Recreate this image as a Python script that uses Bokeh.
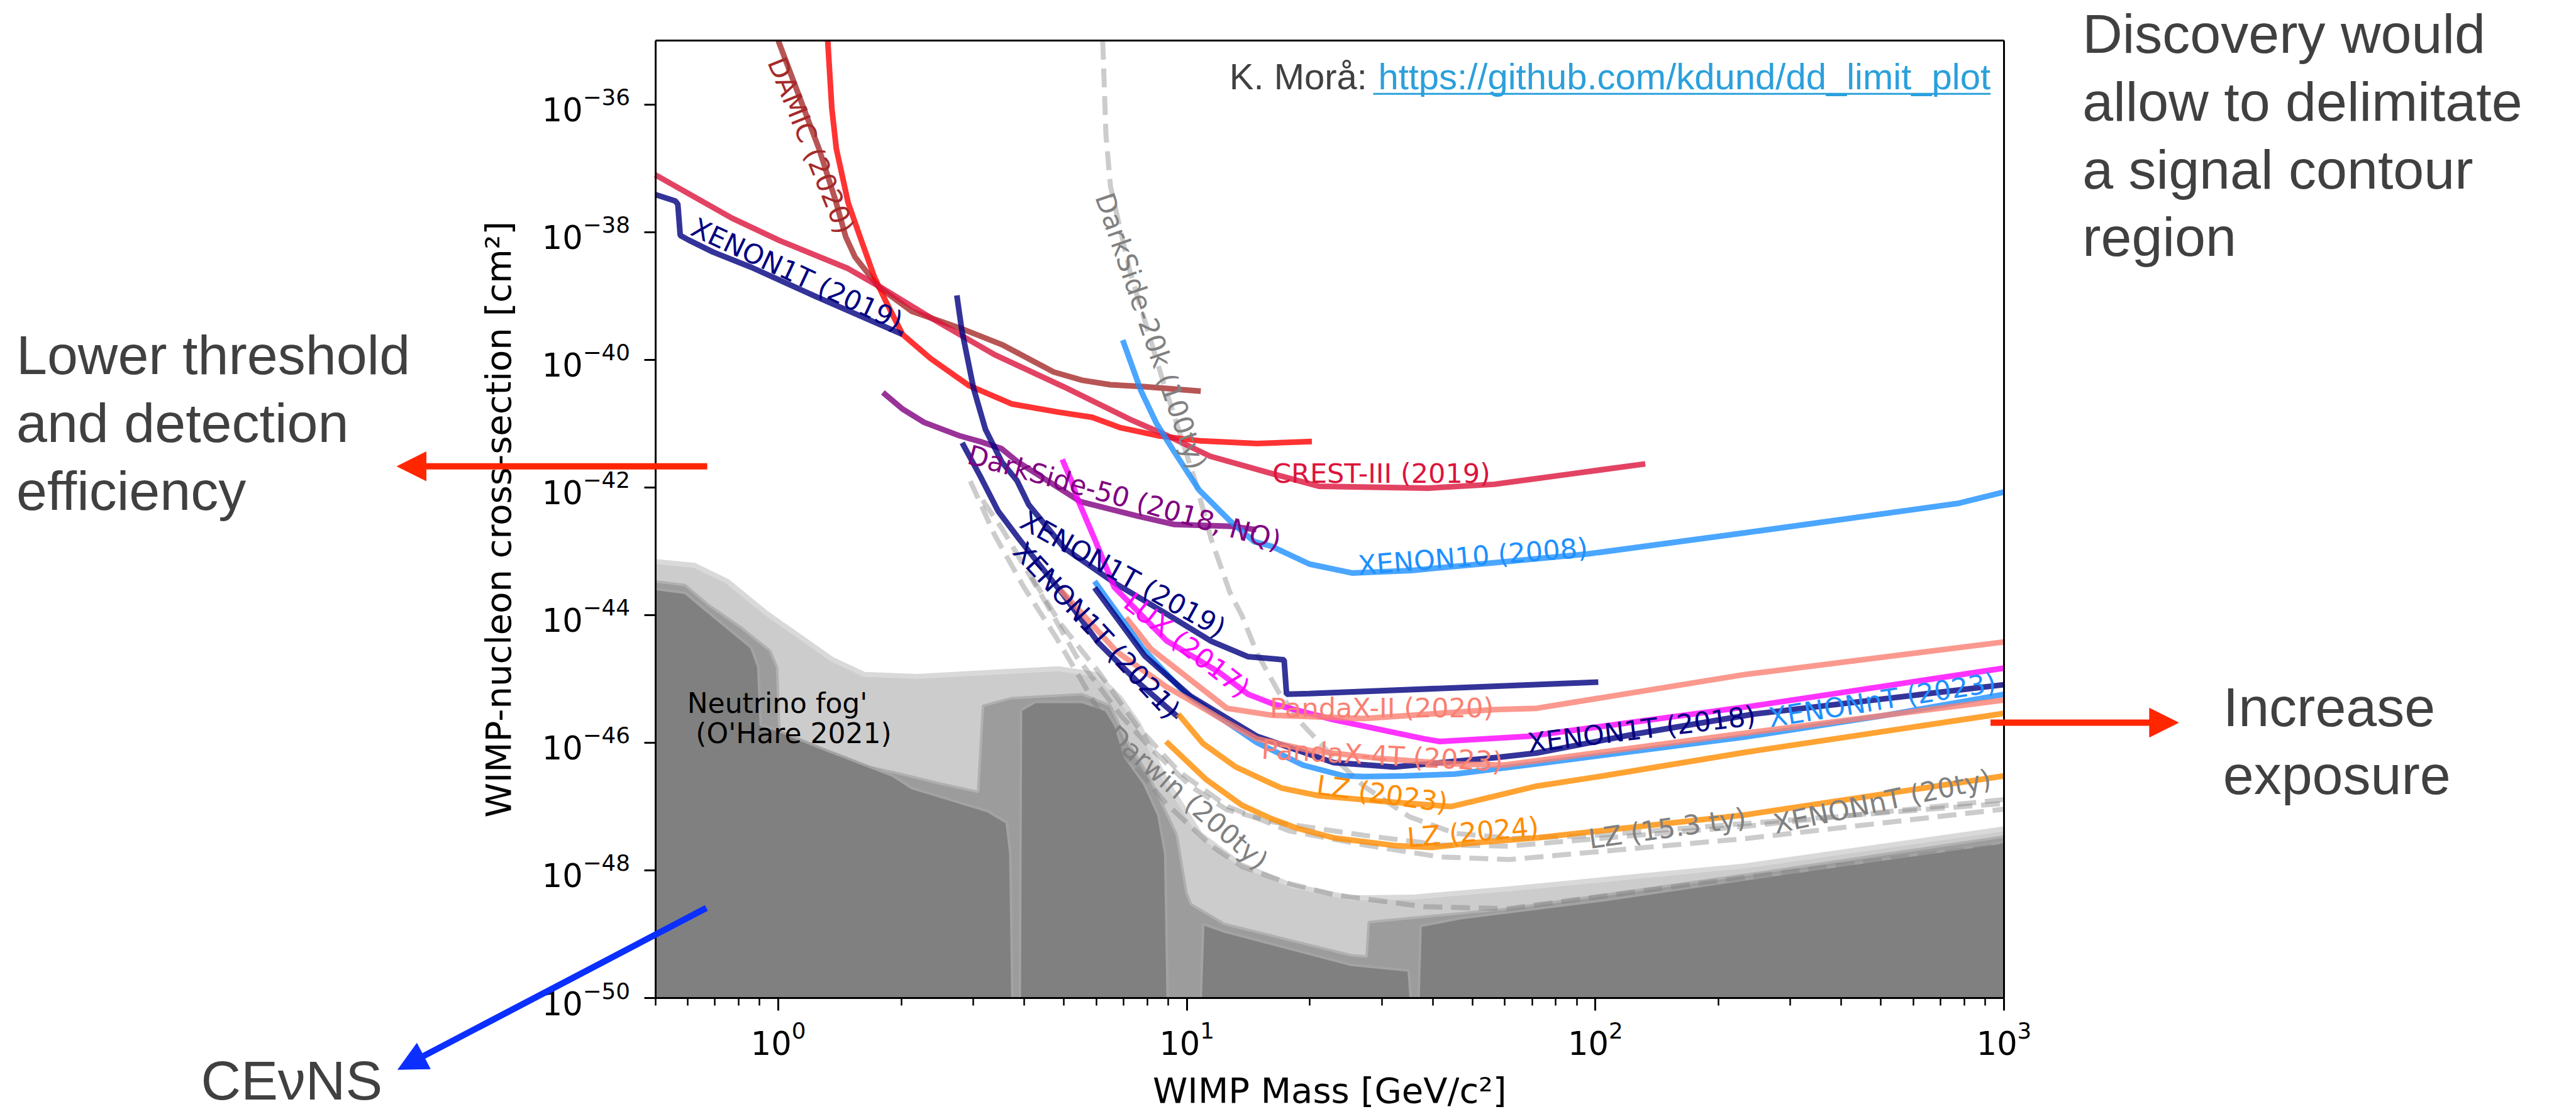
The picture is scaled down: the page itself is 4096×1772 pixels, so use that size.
import numpy as np
from bokeh.plotting import figure
from bokeh.models import Range1d, FixedTicker, Label, Arrow, NormalHead, ColumnDataSource, LogAxis
from bokeh.embed import file_html
from bokeh.resources import INLINE
from bokeh.core.properties import value

# ---------------- data: log10(mass/GeV), log10(sigma/cm^2) ----------------
DAMIC_LM = [0.0, 0.05, 0.10, 0.14, 0.165, 0.188, 0.246, 0.327, 0.444, 0.547, 0.674, 0.744, 0.813, 0.895, 1.034]
DAMIC_LS = [-35.0, -35.85, -36.7, -37.5, -38.07, -38.39, -38.86, -39.24, -39.50, -39.76, -40.19, -40.32, -40.39, -40.42, -40.49]

RED_LM = [0.121, 0.131, 0.142, 0.171, 0.200, 0.235, 0.263, 0.304, 0.373, 0.466, 0.571, 0.686, 0.768, 0.836, 0.930, 1.034, 1.172, 1.306]
RED_LS = [-35.0, -36.06, -36.69, -37.54, -38.07, -38.70, -39.08, -39.60, -39.98, -40.40, -40.69, -40.82, -40.90, -41.06, -41.19, -41.27, -41.31, -41.28]

CRESST_LM = [-0.301, -0.113, 0.003, 0.171, 0.258, 0.373, 0.530, 0.698, 0.860, 0.953, 1.057, 1.207, 1.323, 1.41, 1.590, 1.752, 1.948, 2.122]
CRESST_LS = [-37.10, -37.78, -38.13, -38.57, -38.89, -39.34, -39.92, -40.42, -40.93, -41.19, -41.51, -41.78, -41.98, -41.99, -42.01, -41.95, -41.78, -41.63]

X1T19S2_LM = [-0.301, -0.252, -0.246, -0.240, -0.220, -0.160, -0.066, 0.096, 0.200, 0.304]
X1T19S2_LS = [-37.41, -37.51, -37.56, -38.05, -38.12, -38.31, -38.55, -39.02, -39.31, -39.60]

X1T19M_LM = [0.437, 0.449, 0.478, 0.507, 0.547, 0.584, 0.613, 0.70, 0.829, 0.95, 1.06, 1.149, 1.238, 1.244, 1.30, 2.007]
X1T19M_LS = [-38.99, -39.53, -40.45, -41.09, -41.60, -41.89, -42.27, -42.95, -43.52, -43.98, -44.41, -44.65, -44.70, -45.24, -45.23, -45.05]

X1T21_LM = [0.45, 0.494, 0.538, 0.591, 0.70, 0.783, 0.88, 0.979]
X1T21_LS = [-41.3, -41.82, -42.37, -42.82, -43.70, -44.43, -45.05, -45.60]

DS50_LM = [0.256, 0.304, 0.357, 0.444, 0.494, 0.546, 0.584, 0.739, 0.881, 0.970, 1.111, 1.17]
DS50_LS = [-40.51, -40.77, -40.98, -41.19, -41.28, -41.39, -41.59, -42.22, -42.45, -42.58, -42.61, -42.66]

LUX_LM = [0.695, 0.717, 0.733, 0.777, 0.822, 0.95, 1.08, 1.150, 1.210, 1.359, 1.582, 1.619, 1.835, 2.389, 3.0]
LUX_LS = [-41.56, -41.89, -42.19, -42.85, -43.56, -44.40, -44.90, -45.24, -45.39, -45.64, -45.94, -45.98, -45.90, -45.42, -44.83]

X10_LM = [0.843, 0.888, 0.926, 0.970, 1.030, 1.105, 1.165, 1.207, 1.300, 1.404, 1.55, 1.75, 1.983, 2.366, 2.887, 3.0]
X10_LS = [-39.69, -40.49, -41.00, -41.45, -42.04, -42.52, -42.85, -42.92, -43.20, -43.34, -43.30, -43.18, -43.04, -42.71, -42.25, -42.07]

PX2_LM = [0.851, 0.875, 0.912, 0.986, 1.098, 1.210, 1.433, 1.752, 1.856, 2.366, 3.0]
PX2_LS = [-44.04, -44.23, -44.53, -44.90, -45.46, -45.57, -45.62, -45.48, -45.46, -44.93, -44.42]

PX4_LM = [0.69, 0.828, 0.949, 1.001, 1.098, 1.172, 1.30, 1.478, 1.65, 1.776, 2.366, 3.0]
PX4_LS = [-43.60, -44.57, -45.12, -45.31, -45.68, -45.94, -46.12, -46.25, -46.33, -46.35, -45.85, -45.33]

X1T18_LM = [0.774, 0.897, 1.009, 1.172, 1.359, 1.507, 1.761, 1.856, 2.10, 2.389, 3.0]
X1T18_LS = [-43.57, -44.64, -45.27, -45.90, -46.31, -46.38, -46.23, -46.16, -45.86, -45.55, -45.09]

XNT23_LM = [0.774, 0.892, 0.990, 1.023, 1.172, 1.284, 1.385, 1.433, 1.532, 1.656, 1.856, 2.366, 2.70, 3.0]
XNT23_LS = [-43.47, -44.52, -45.19, -45.35, -46.00, -46.35, -46.52, -46.53, -46.52, -46.49, -46.33, -45.91, -45.58, -45.24]

LZ23_LM = [0.979, 1.039, 1.120, 1.207, 1.232, 1.323, 1.48, 1.647, 1.856, 2.018, 2.366, 3.0]
LZ23_LS = [-45.55, -46.01, -46.38, -46.64, -46.71, -46.83, -46.92, -47.00, -46.68, -46.52, -46.15, -45.54]

LZ24_LM = [0.949, 1.046, 1.135, 1.207, 1.270, 1.359, 1.508, 1.60, 1.70, 1.856, 2.366, 3.0]
LZ24_LS = [-45.98, -46.57, -46.98, -47.19, -47.34, -47.49, -47.61, -47.64, -47.57, -47.49, -47.13, -46.52]

DS20K_LM = [0.794, 0.802, 0.813, 0.86, 0.94, 1.022, 1.060, 1.105, 1.135, 1.172, 1.224, 1.284, 1.359, 1.433, 1.545, 1.656, 1.8, 2.0, 2.4, 3.0]
DS20K_LS = [-35.0, -36.48, -37.28, -38.6, -40.3, -41.93, -42.82, -43.64, -44.01, -44.60, -45.20, -45.72, -46.23, -46.68, -47.16, -47.42, -47.50, -47.45, -47.25, -46.95]

DARWIN_LM = [0.47, 0.53, 0.60, 0.68, 0.74, 0.838, 0.949, 1.061, 1.135, 1.247, 1.359, 1.582, 1.786, 2.366, 3.0]
DARWIN_LS = [-41.9, -42.75, -43.55, -44.35, -45.0, -46.1, -46.95, -47.62, -47.94, -48.20, -48.38, -48.57, -48.60, -48.11, -47.60]

LZ153_LM = [0.50, 0.549, 0.646, 0.731, 0.838, 0.912, 1.009, 1.098, 1.21, 1.433, 1.62, 1.786, 2.366, 3.0]
LZ153_LS = [-42.2, -42.66, -43.71, -44.66, -45.57, -46.09, -46.68, -47.05, -47.24, -47.45, -47.60, -47.62, -47.31, -46.89]

XNT20_LM = [0.62, 0.689, 0.785, 0.88, 0.98, 1.10, 1.25, 1.433, 1.62, 1.79, 2.37, 3.0]
XNT20_LS = [-43.4, -44.12, -44.90, -45.75, -46.45, -47.00, -47.38, -47.60, -47.79, -47.83, -47.50, -47.04]

# neutrino fog layers (upper boundaries)
FOG_LIGHT_LM = [-0.301, -0.205, -0.125, -0.031, 0.049, 0.131, 0.211, 0.338, 0.512, 0.686, 0.779, 0.837, 0.882, 0.947, 1.032, 1.130, 1.258, 1.40, 1.55, 1.786, 2.366, 3.0]
FOG_LIGHT_LS = [-43.16, -43.22, -43.47, -43.96, -44.32, -44.69, -44.93, -44.96, -44.90, -44.84, -44.93, -45.30, -45.71, -46.57, -47.43, -47.90, -48.24, -48.43, -48.42, -48.29, -47.93, -47.35]
FOG_MID_LM = [-0.301, -0.228, -0.171, -0.090, -0.020, -0.003, 0.003, 0.107, 0.281, 0.397, 0.489, 0.501, 0.571, 0.744, 0.813, 0.848, 0.907, 0.975, 0.999, 1.010, 1.092, 1.402, 1.44, 1.445, 1.786, 2.366, 3.0]
FOG_MID_LS = [-43.47, -43.53, -43.84, -44.20, -44.56, -44.82, -45.91, -46.22, -46.46, -46.64, -46.77, -45.42, -45.30, -45.24, -45.42, -45.91, -46.52, -47.44, -48.35, -48.53, -48.84, -49.33, -49.35, -48.81, -48.60, -48.07, -47.47]
FOG_DARK1_LM = [-0.301, -0.228, -0.182, -0.113, -0.066, -0.049, -0.043, -0.008, 0.107, 0.281, 0.327, 0.512, 0.559, 0.568, 0.573]
FOG_DARK1_LS = [-43.59, -43.65, -43.90, -44.26, -44.51, -44.81, -45.72, -45.79, -46.09, -46.52, -46.71, -47.07, -47.25, -47.74, -50.0]
FOG_DARK2_LM = [0.591, 0.594, 0.629, 0.744, 0.802, 0.825, 0.848, 0.895, 0.930, 0.947, 0.953]
FOG_DARK2_LS = [-50.0, -45.49, -45.36, -45.36, -45.49, -45.73, -46.22, -46.64, -47.13, -47.74, -50.0]
FOG_DARK3_LM = [1.034, 1.040, 1.092, 1.402, 1.543, 1.548]
FOG_DARK3_LS = [-50.0, -48.84, -48.96, -49.48, -49.57, -50.0]
FOG_DARK4_LM = [1.567, 1.572, 1.670, 2.018, 2.366, 3.0]
FOG_DARK4_LS = [-50.0, -48.87, -48.75, -48.47, -48.14, -47.56]
FOG_FLOOR = -50.0

# curve labels
LABEL_TEXT = ["DAMIC (2020)", "XENON1T (2019)", "DarkSide-20k (100ty)", "DarkSide-50 (2018, NQ)",
              "CREST-III (2019)", "XENON1T (2019)", "LUX (2017)", "XENON1T (2021)", "XENON10 (2008)",
              "PandaX-II (2020)", "PandaX-4T (2023)", "XENON1T (2018)", "XENONnT (2023)", "LZ (2023)",
              "LZ (2024)", "LZ (15.3 ty)", "XENONnT (20ty)", "Darwin (200ty)"]
LABEL_LM = [0.080, 0.046, 0.912, 0.847, 1.476, 0.844, 1.0, 0.779, 1.70, 1.477, 1.478, 2.113, 2.702, 1.478, 1.70, 2.176, 2.702, 1.001]
LABEL_LS = [-36.64, -38.66, -39.55, -42.16, -41.78, -43.36, -44.47, -44.24, -43.08, -45.45, -46.20, -45.79, -45.33, -46.80, -47.40, -47.34, -46.92, -46.86]
LABEL_ANGLE = [-68, -25, -71, -15.6, 0, -29, -38, -47, 4.5, 0, -3, 7, 9, -8, 5, 8, 12, -41]
LABEL_COLOR = ["brown", "navy", "grey", "purple", "crimson", "navy", "magenta", "navy", "dodgerblue",
               "salmon", "salmon", "navy", "dodgerblue", "darkorange", "darkorange", "grey", "grey", "grey"]

X_TICKS = [1, 10, 100, 1000]
X_MINOR = [m * d for d in (0.1, 1, 10, 100) for m in range(2, 10) if 0.5 <= m * d <= 1000]
Y_TICKS = [10.0 ** e for e in range(-50, -35, 2)]

# ---------------- layout (screen pixels) ----------------
W, H = 4096, 1772
BOX_L, BOX_R, BOX_T, BOX_B = 1041.5, 3186.0, 64.4, 1587.0
XMIN, XMAX, YMIN, YMAX = 0.5, 1000.0, 1e-50, 1e-35
LX0, LX1, LY0, LY1 = np.log10(XMIN), np.log10(XMAX), np.log10(YMIN), np.log10(YMAX)
PXX = (BOX_R - BOX_L) / (LX1 - LX0)
PXY = (BOX_B - BOX_T) / (LY1 - LY0)
x_lo, x_hi = LX0 - BOX_L / PXX, LX1 + (W - BOX_R) / PXX
y_lo, y_hi = LY0 - (H - BOX_B) / PXY, LY1 + BOX_T / PXY


def lin(a):
    return [10.0 ** v for v in a]


def mid(ls_base, size, shift_px=0.0):
    """log-y of the middle of a text line whose baseline is at ls_base (shift_px moves it up)."""
    return 10.0 ** (ls_base + (0.346 * size + shift_px) / PXY)


p = figure(width=W, height=H, x_axis_type="log", y_axis_type="log",
           x_range=Range1d(10 ** x_lo, 10 ** x_hi), y_range=Range1d(10 ** y_lo, 10 ** y_hi),
           output_backend="svg", toolbar_location=None, min_border=0,
           min_border_left=0, min_border_right=0, min_border_top=0, min_border_bottom=0)
p.title.visible = False
p.grid.visible = False
p.background_fill_color = "white"
p.border_fill_color = "white"
p.outline_line_color = None

# ---- neutrino fog ----
def closed(lm, ls):
    xs = lin(lm) + [10.0 ** lm[-1], 10.0 ** lm[0]]
    ys = lin(ls) + [10.0 ** FOG_FLOOR, 10.0 ** FOG_FLOOR]
    return xs, ys

x, y = closed(FOG_LIGHT_LM, FOG_LIGHT_LS)
p.patch(x, y, fill_color="#cccccc", line_alpha=0)
p.line(lin(FOG_LIGHT_LM), lin(FOG_LIGHT_LS), line_color="#d9d9d9", line_width=8)
x, y = closed(FOG_MID_LM, FOG_MID_LS)
p.patch(x, y, fill_color="#9c9c9c", line_alpha=0)
p.line(lin(FOG_MID_LM), lin(FOG_MID_LS), line_color="#b0b0b0", line_width=4)
for lm, ls in ((FOG_DARK1_LM, FOG_DARK1_LS), (FOG_DARK2_LM, FOG_DARK2_LS),
               (FOG_DARK3_LM, FOG_DARK3_LS), (FOG_DARK4_LM, FOG_DARK4_LS)):
    x, y = closed(lm, ls)
    p.patch(x, y, fill_color="#808080", line_alpha=0)
    p.line(lin(lm), lin(ls), line_color="#a3a3a3", line_width=4)

# ---- projections (dashed) ----
for lm, ls in ((DS20K_LM, DS20K_LS), (DARWIN_LM, DARWIN_LS), (LZ153_LM, LZ153_LS), (XNT20_LM, XNT20_LS)):
    p.line(lin(lm), lin(ls), line_color="grey", line_alpha=0.4, line_width=8, line_dash="30 14")

# ---- limits ----
curves = [
    (DAMIC_LM, DAMIC_LS, "brown"),
    (RED_LM, RED_LS, "red"),
    (CRESST_LM, CRESST_LS, "crimson"),
    (X1T19S2_LM, X1T19S2_LS, "navy"),
    (DS50_LM, DS50_LS, "purple"),
    (X10_LM, X10_LS, "dodgerblue"),
    (X1T19M_LM, X1T19M_LS, "navy"),
    (LUX_LM, LUX_LS, "magenta"),
    (PX2_LM, PX2_LS, "salmon"),
    (X1T21_LM, X1T21_LS, "navy"),
    (XNT23_LM, XNT23_LS, "dodgerblue"),
    (X1T18_LM, X1T18_LS, "navy"),
    (PX4_LM, PX4_LS, "salmon"),
    (LZ23_LM, LZ23_LS, "darkorange"),
    (LZ24_LM, LZ24_LS, "darkorange"),
]
for lm, ls, c in curves:
    p.line(lin(lm), lin(ls), line_color=c, line_alpha=0.8, line_width=9)

# ---- curve labels ----
src = ColumnDataSource(dict(x=lin(LABEL_LM), y=lin(LABEL_LS), text=LABEL_TEXT,
                            angle=[np.deg2rad(a) for a in LABEL_ANGLE], color=LABEL_COLOR))
p.text(x="x", y="y", text="text", angle="angle", text_color="color", source=src,
       text_font=value("DejaVu Sans"), text_font_size=value("43px"),
       text_align="center", text_baseline="middle")

FOG_TEXT = ["Neutrino fog'", "(O'Hare 2021)"]
FOG_TEXT_LM = [-0.223, -0.202]
FOG_TEXT_LS = [-45.53, -46.0]
p.text(x=lin(FOG_TEXT_LM), y=[mid(v, 44) for v in FOG_TEXT_LS], text=FOG_TEXT, text_color="black",
       text_font=value("DejaVu Sans"), text_font_size=value("44px"),
       text_align="left", text_baseline="middle")

# ---- credit ----
CREDIT_SIZE = 58
p.add_layout(Label(x=10 ** 1.104, y=mid(-35.751, CREDIT_SIZE), text="K. Morå:", text_font="Liberation Sans",
                   text_font_size=f"{CREDIT_SIZE}px", text_color="#404040", text_align="left",
                   text_baseline="middle"))
p.add_layout(Label(x=10 ** 2.967, y=mid(-35.751, CREDIT_SIZE), text="https://github.com/kdund/dd_limit_plot",
                   text_font="Liberation Sans", text_font_size=f"{CREDIT_SIZE}px", text_color="#2ba0dc",
                   text_align="right", text_baseline="middle"))
p.add_layout(Arrow(start=None, end=None, x_start=10 ** 1.456, y_start=10 ** -35.83, x_end=10 ** 2.967,
                   y_end=10 ** -35.83, line_color="#2ba0dc", line_width=3))

# ---- axes (spines drawn at the box edges) ----
p.xaxis.fixed_location = YMIN
p.xaxis.bounds = (XMIN, XMAX)
p.yaxis.fixed_location = XMIN
p.yaxis.bounds = (YMIN, YMAX)
p.xaxis.ticker = FixedTicker(ticks=X_TICKS, minor_ticks=X_MINOR)
p.yaxis.ticker = FixedTicker(ticks=Y_TICKS, minor_ticks=[])
for ax in (p.xaxis[0], p.yaxis[0]):
    ax.axis_line_width = 3
    ax.major_tick_line_width = 3
    ax.minor_tick_line_width = 2.5
    ax.major_tick_in = 0
    ax.minor_tick_in = 0
    ax.major_label_text_font = "DejaVu Sans"
    ax.major_label_text_font_size = "51px"
    ax.major_label_text_color = "black"
p.xaxis.major_tick_out = 20
p.xaxis.minor_tick_out = 12
p.yaxis.major_tick_out = 18
p.yaxis.minor_tick_out = 0
p.xaxis.major_label_standoff = 16
p.yaxis.major_label_standoff = 22

top = LogAxis(fixed_location=YMAX, bounds=(XMIN, XMAX), ticker=FixedTicker(ticks=[], minor_ticks=[]),
              axis_line_width=3, major_tick_line_color=None, minor_tick_line_color=None,
              major_label_text_font_size="0px")
p.add_layout(top, "above")
right = LogAxis(fixed_location=XMAX, bounds=(YMIN, YMAX), ticker=FixedTicker(ticks=[], minor_ticks=[]),
                axis_line_width=3, major_tick_line_color=None, minor_tick_line_color=None,
                major_label_text_font_size="0px")
p.add_layout(right, "right")

# axis titles
p.add_layout(Label(x=10 ** ((LX0 + LX1) / 2), y=mid(-51.635, 56), text="WIMP Mass [GeV/c²]",
                   text_font="DejaVu Sans", text_font_size="56px", text_color="black",
                   text_align="center", text_baseline="middle"))
p.add_layout(Label(x=10 ** (LX0 + (791.6 - BOX_L) / PXX), y=10 ** ((LY0 + LY1) / 2),
                   text="WIMP-nucleon cross-section [cm²]", angle=np.pi / 2,
                   text_font="DejaVu Sans", text_font_size="56px", text_color="black",
                   text_align="center", text_baseline="middle"))

# ---- annotations outside the box ----
GREY_TXT = "#404040"
SIDE_SIZE = 88
side_texts = [
    ("Lower threshold", -1.865, -40.224, 0), ("and detection", -1.865, -41.286, 0), ("efficiency", -1.865, -42.348, 0),
    ("Discovery would", 3.192, -35.129, -6), ("allow to delimitate", 3.192, -36.191, -6),
    ("a signal contour", 3.192, -37.253, -6), ("region", 3.192, -38.307, -6),
    ("Increase", 3.536, -45.74, 0), ("exposure", 3.536, -46.80, 0),
    ("CEνNS", -1.413, -51.651, 6),
]
for t, lm, ls, sh in side_texts:
    p.add_layout(Label(x=10 ** lm, y=mid(ls, SIDE_SIZE, sh), text=t, text_font="Liberation Sans",
                       text_font_size=f"{SIDE_SIZE}px", text_color=GREY_TXT,
                       text_align="left", text_baseline="middle"))

RED = "#ff2600"
BLUE = "#0a2fff"
p.add_layout(Arrow(end=NormalHead(size=46, fill_color=RED, line_color=RED), start=None,
                   x_start=10 ** -0.174, y_start=10 ** -41.668, x_end=10 ** -0.933, y_end=10 ** -41.668,
                   line_color=RED, line_width=10))
p.add_layout(Arrow(end=NormalHead(size=46, fill_color=RED, line_color=RED), start=None,
                   x_start=10 ** 2.967, y_start=10 ** -45.685, x_end=10 ** 3.427, y_end=10 ** -45.685,
                   line_color=RED, line_width=10))
p.add_layout(Arrow(end=NormalHead(size=46, fill_color=BLUE, line_color=BLUE), start=None,
                   x_start=10 ** -0.176, y_start=10 ** -48.589, x_end=10 ** -0.931, y_end=10 ** -51.12,
                   line_color=BLUE, line_width=10))

open("out.html", "w").write(file_html(p, INLINE))
